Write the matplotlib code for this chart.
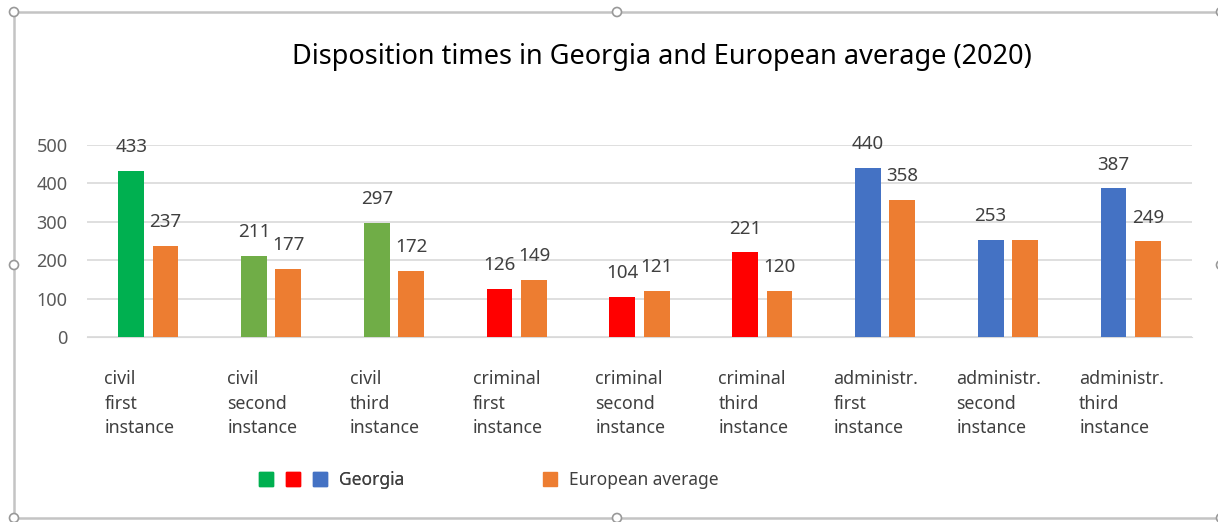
"""Disposition times in Georgia and European average (2020)."""

import matplotlib
matplotlib.use("Agg")
import matplotlib.pyplot as plt
from matplotlib.lines import Line2D
from matplotlib.legend_handler import HandlerTuple
from matplotlib.patches import Circle, Rectangle
import matplotlib.transforms as mtransforms

categories = [
    "civil\nfirst\ninstance",
    "civil\nsecond\ninstance",
    "civil\nthird\ninstance",
    "criminal\nfirst\ninstance",
    "criminal\nsecond\ninstance",
    "criminal\nthird\ninstance",
    "administr.\nfirst\ninstance",
    "administr.\nsecond\ninstance",
    "administr.\nthird\ninstance",
]
georgia = [433, 211, 297, 126, 104, 221, 440, 253, 387]
european = [237, 177, 172, 149, 121, 120, 358, 253, 249]
# the reference leaves the second administrative European bar unlabelled
european_labels = ["237", "177", "172", "149", "121", "120", "358", "", "249"]
georgia_colors = ["#00B050", "#70AD47", "#70AD47",
                  "#FF0000", "#FF0000", "#FF0000",
                  "#4472C4", "#4472C4", "#4472C4"]
orange = "#ED7D31"

W, H = 1218, 522


def main() -> None:
    plt.rcParams["font.family"] = ["Noto Sans", "DejaVu Sans"]
    fig = plt.figure(figsize=(W / 100, H / 100), dpi=100)
    ax = fig.add_axes([87 / W, 1 - 337 / H, 1105 / W, 192 / H])

    x = list(range(len(categories)))
    width, off = 0.21, 0.14
    gbars = ax.bar([i - off for i in x], georgia, width, color=georgia_colors, zorder=3)
    ebars = ax.bar([i + off for i in x], european, width, color=orange, zorder=3)

    for bar, v in zip(gbars, georgia):
        ax.annotate(str(v), (bar.get_x() + bar.get_width() / 2, v),
                    xytext=(0, 17), textcoords="offset points",
                    ha="center", va="center", fontsize=13.5, color="#404040")
    for bar, v, lab in zip(ebars, european, european_labels):
        ax.annotate(lab, (bar.get_x() + bar.get_width() / 2, v),
                    xytext=(0, 17), textcoords="offset points",
                    ha="center", va="center", fontsize=13.5, color="#404040")

    ax.set_xlim(-0.5, len(categories) - 0.5)
    ax.set_ylim(0, 500)
    ax.set_yticks([0, 100, 200, 300, 400, 500])
    ax.yaxis.grid(True, color="#D9D9D9", linewidth=1.2, zorder=0)
    ax.tick_params(axis="y", length=0, pad=14, labelsize=13, labelcolor="#595959")
    ax.tick_params(axis="x", length=0, pad=24)
    for s in ["top", "right", "left"]:
        ax.spines[s].set_visible(False)
    ax.spines["bottom"].set_color("#D9D9D9")

    ax.set_xticks(x)
    ax.set_xticklabels(categories, fontsize=12.8, color="#404040", linespacing=1.45)
    shift = mtransforms.ScaledTranslation(-9 / 100, 0, fig.dpi_scale_trans)
    for lab in ax.get_xticklabels():
        lab.set_multialignment("left")
        lab.set_transform(lab.get_transform() + shift)

    fig.text(662 / W, 1 - 57 / H, "Disposition times in Georgia and European average (2020)",
             ha="center", va="center", fontsize=19.5, color="#000000")

    # legend: three Georgia colours share one entry
    sq = dict(marker="s", linestyle="none", markersize=9.5)
    g_handle = tuple(Line2D([], [], color=c, **sq) for c in ["#00B050", "#FF0000", "#4472C4"])
    leg1 = fig.legend([g_handle], ["Georgia"], loc="center left",
                      bbox_to_anchor=(252 / W, 1 - 480 / H), frameon=False,
                      borderpad=0, borderaxespad=0, handlelength=4.7, handletextpad=0.3,
                      fontsize=12.5, labelcolor="#404040",
                      handler_map={tuple: HandlerTuple(ndivide=None, pad=0)})
    fig.add_artist(leg1)
    fig.legend([Line2D([], [], color=orange, **sq)], ["European average"], loc="center left",
               bbox_to_anchor=(541 / W, 1 - 480 / H), frameon=False,
               borderpad=0, borderaxespad=0, handlelength=1.0, handletextpad=0.6,
               fontsize=12.5, labelcolor="#404040")

    # selection frame around the chart object, as in the screenshot
    border = "#C4C4C4"
    fig.add_artist(Rectangle((14 / W, 1 - 518 / H), (1222 - 14) / W, (518 - 12) / H,
                             transform=fig.transFigure, fill=False,
                             edgecolor=border, linewidth=1.8))
    for hx, hy in [(14, 12), (617, 12), (1221, 12), (14, 265), (1221, 265),
                   (14, 518), (617, 518), (1221, 518)]:
        fig.add_artist(Circle((hx / 100, (H - hy) / 100), 0.045,
                              transform=fig.dpi_scale_trans, facecolor="white",
                              edgecolor="#999999", linewidth=1.2, zorder=10))

    fig.savefig("out.png", dpi=100)


if __name__ == "__main__":
    main()
